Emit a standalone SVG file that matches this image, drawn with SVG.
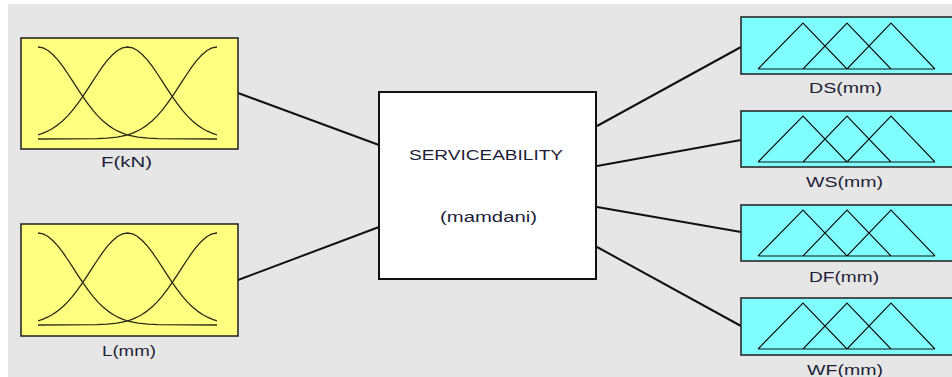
<svg xmlns="http://www.w3.org/2000/svg" xmlns:xlink="http://www.w3.org/1999/xlink" width="952" height="377" viewBox="0 0 952 377">
<style>
.bg{fill:#e6e6e6}
.inbox{fill:#ffff80;stroke:#2a2a2a;stroke-width:1.6}
.outbox{fill:#80ffff;stroke:#2a2a2a;stroke-width:1.6}
.sys{fill:#ffffff;stroke:#111;stroke-width:2}
.mf{fill:none;stroke:#2b2b18;stroke-width:1.3;stroke-linejoin:round}
.tri{fill:none;stroke:#111;stroke-width:1.1;stroke-linejoin:miter}
.lbl{font-family:"Liberation Sans",Arial,sans-serif;font-size:14px;fill:#1e1e38}
.conn{stroke:#111;stroke-width:2;fill:none}
</style>
<defs>
<path id="gauss" d="M-180,0 L-120,-0.35 -110,-0.9 -100,-1.9 -95,-2.8 -90,-4 -85,-5.7 -80,-7.8 -75,-10.5 -70,-13.9 -65,-18 -60,-22.9 -55,-28.6 -50,-35.1 -45,-42.1 -40,-49.6 -35,-57.4 -30,-65 -25,-72.3 -20,-78.9 -15,-84.3 -10,-88.5 -5,-91.1 0,-92 5,-91.1 10,-88.5 15,-84.3 20,-78.9 25,-72.3 30,-65 35,-57.4 40,-49.6 45,-42.1 50,-35.1 55,-28.6 60,-22.9 65,-18 70,-13.9 75,-10.5 80,-7.8 85,-5.7 90,-4 95,-2.8 100,-1.9 110,-0.9 120,-0.35 180,0"/>
<clipPath id="mfclip"><rect x="17" y="0" width="179" height="110"/></clipPath>
<g id="gaussset" class="mf" clip-path="url(#mfclip)">
<use xlink:href="#gauss" transform="translate(17,101)"/>
<use xlink:href="#gauss" transform="translate(106.5,101)"/>
<use xlink:href="#gauss" transform="translate(196,101)"/>
</g>
<path id="triset" class="tri" d="M17,52 L62,6 L106,52 M62,52 L106,6 L150,52 M106,52 L150,6 L194,52 M17,52 H194"/>
</defs>
<rect x="0" y="0" width="952" height="377" fill="#ffffff"/>
<rect class="bg" x="8" y="4" width="944" height="373"/>

<g id="connectors">
<line class="conn" x1="238" y1="93" x2="379" y2="145"/>
<line class="conn" x1="238" y1="280" x2="379" y2="227"/>
<line class="conn" x1="597" y1="126" x2="741" y2="47"/>
<line class="conn" x1="597" y1="166" x2="741" y2="140"/>
<line class="conn" x1="597" y1="207" x2="741" y2="232"/>
<line class="conn" x1="597" y1="247" x2="741" y2="326"/>
</g>

<g id="input-F" transform="translate(21,38)">
<rect class="inbox" x="0" y="0" width="217" height="111"/>
<use xlink:href="#gaussset"/>
<text class="lbl" x="105.5" y="129" text-anchor="middle" textLength="51" lengthAdjust="spacingAndGlyphs">F(kN)</text>
</g>

<g id="input-L" transform="translate(21,224)">
<rect class="inbox" x="0" y="0" width="217" height="112"/>
<use xlink:href="#gaussset"/>
<text class="lbl" x="108" y="132" text-anchor="middle" textLength="54" lengthAdjust="spacingAndGlyphs">L(mm)</text>
</g>

<g id="system">
<rect class="sys" x="379" y="92" width="217" height="187"/>
<text class="lbl" x="486" y="160" text-anchor="middle" textLength="154" lengthAdjust="spacingAndGlyphs">SERVICEABILITY</text>
<text class="lbl" x="488.5" y="222" text-anchor="middle" textLength="97" lengthAdjust="spacingAndGlyphs">(mamdani)</text>
</g>

<g id="output-DS" transform="translate(741,17)">
<rect class="outbox" x="0" y="0" width="222" height="57"/>
<use xlink:href="#triset"/>
<text class="lbl" x="104.5" y="76" text-anchor="middle" textLength="73" lengthAdjust="spacingAndGlyphs">DS(mm)</text>
</g>

<g id="output-WS" transform="translate(741,111)">
<rect class="outbox" x="0" y="0" width="222" height="56"/>
<use xlink:href="#triset" transform="translate(0,-1)"/>
<text class="lbl" x="103.5" y="76" text-anchor="middle" textLength="77" lengthAdjust="spacingAndGlyphs">WS(mm)</text>
</g>

<g id="output-DF" transform="translate(741,205)">
<rect class="outbox" x="0" y="0" width="222" height="56"/>
<use xlink:href="#triset" transform="translate(0,-1)"/>
<text class="lbl" x="103" y="77" text-anchor="middle" textLength="70" lengthAdjust="spacingAndGlyphs">DF(mm)</text>
</g>

<g id="output-WF" transform="translate(741,298)">
<rect class="outbox" x="0" y="0" width="222" height="57"/>
<use xlink:href="#triset" transform="translate(0,-1)"/>
<text class="lbl" x="104" y="77" text-anchor="middle" textLength="76" lengthAdjust="spacingAndGlyphs">WF(mm)</text>
</g>
</svg>
